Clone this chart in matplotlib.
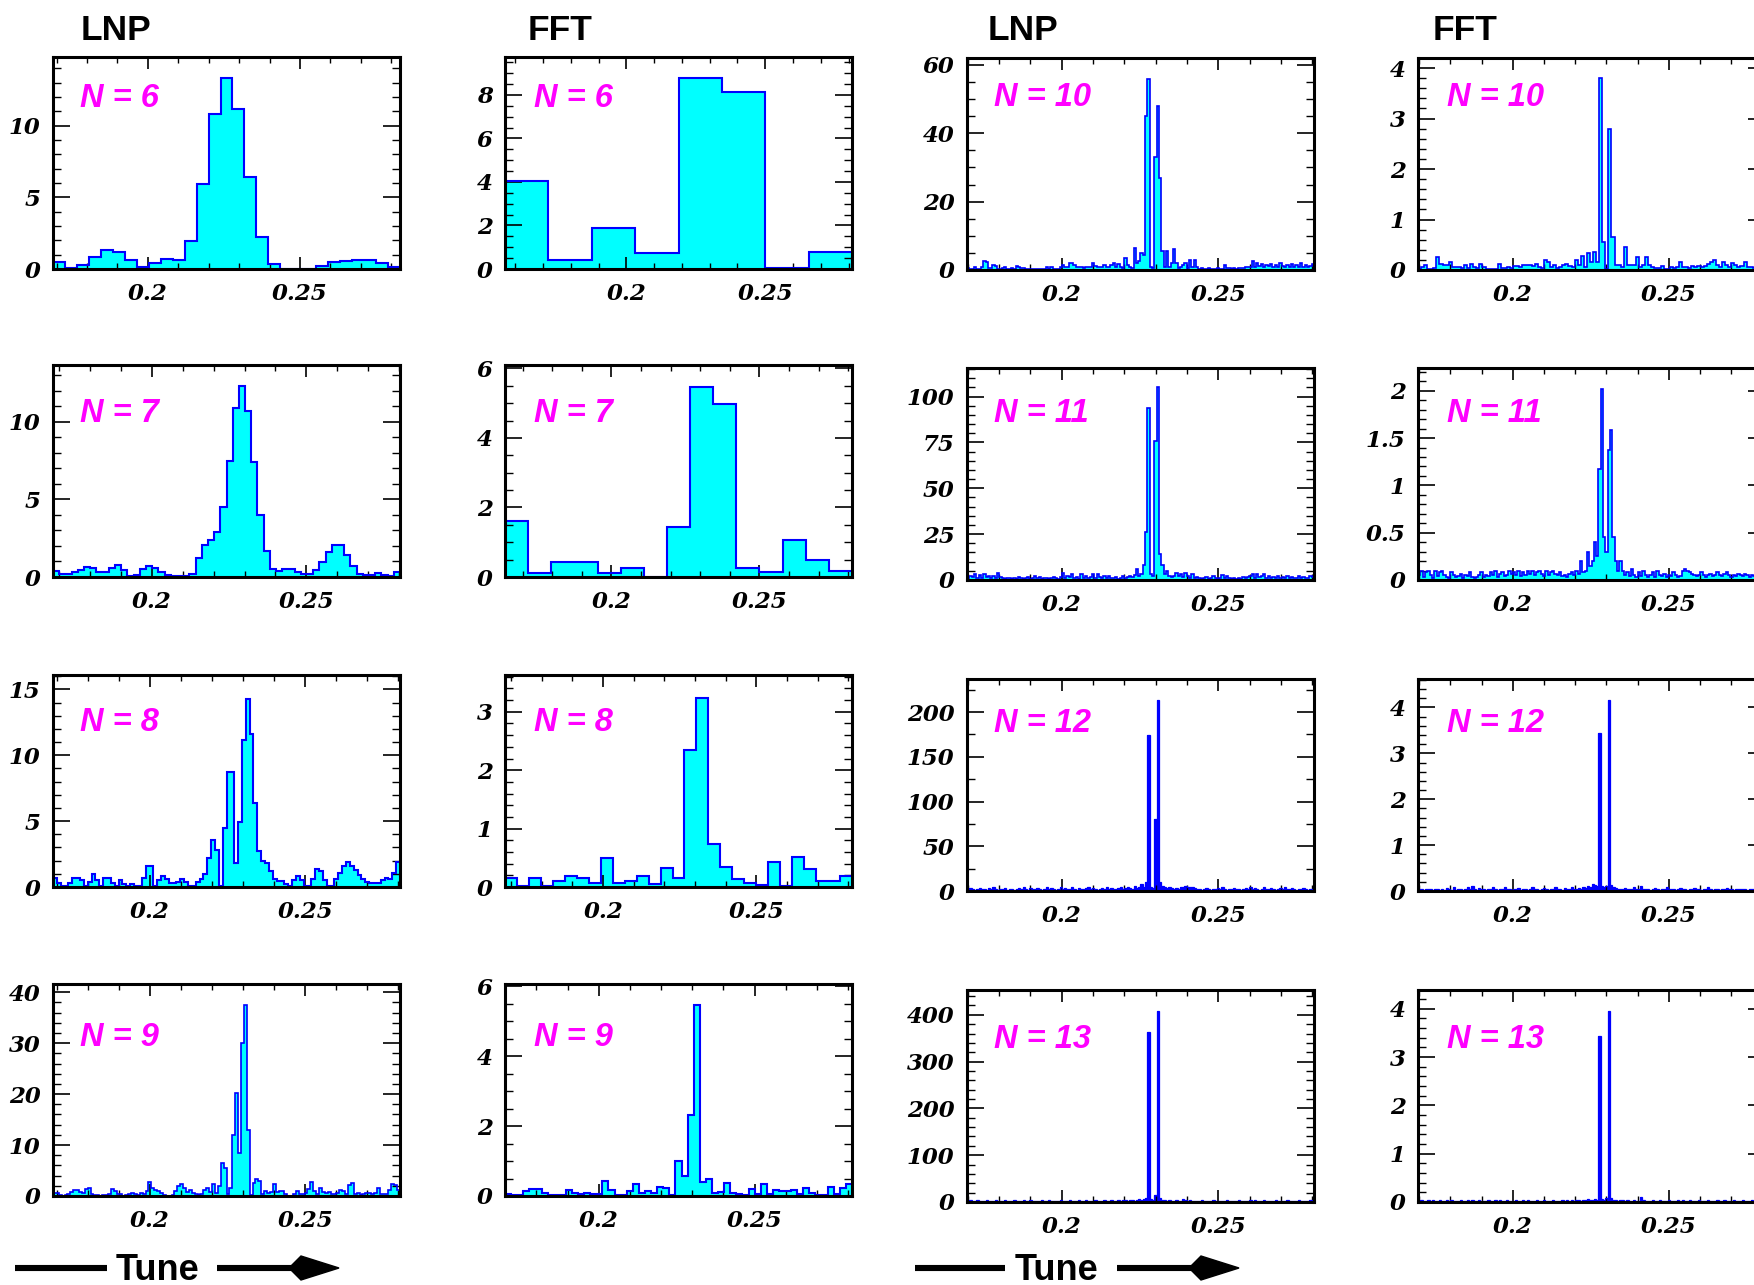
import matplotlib
matplotlib.use("Agg")
import matplotlib.pyplot as plt
from matplotlib.ticker import MultipleLocator, FixedLocator, FuncFormatter
from matplotlib.patches import Polygon
import numpy as np

plt.rcParams.update({'font.family': ['DejaVu Serif'], 'font.style': 'italic',
                     'font.weight': 'bold'})

W, H = 1754, 1285

# ---------------- data (bin contents) ----------------
lnp6 = [0.5, 0.07, 0.25, 0.85, 1.35, 1.2, 0.6, 0.15, 0.45, 0.7, 0.6, 1.95, 5.9, 10.8,
        13.3, 11.2, 6.4, 2.2, 0.35, 0.02, 0.02, 0.02, 0.23, 0.5, 0.55, 0.63, 0.63, 0.42, 0.12]
fft6 = [4.05, 0.42, 1.9, 0.74, 8.77, 8.12, 0.05, 0.78]

lnp7 = [0.4, 0.2, 0.2, 0.3, 0.45, 0.65, 0.55, 0.3, 0.3, 0.55,
        0.8, 0.45, 0.05, 0.15, 0.5, 0.7, 0.55, 0.35, 0.1, 0.05,
        0.05, 0.05, 0.2, 1.2, 2.05, 2.4, 2.9, 4.5, 7.5, 10.9,
        12.3, 10.7, 7.4, 4.0, 1.7, 0.5, 0.4, 0.5, 0.5, 0.35,
        0.2, 0.2, 0.45, 0.95, 1.6, 2.05, 2.05, 1.45, 0.7, 0.2,
        0.1, 0.15, 0.25, 0.15, 0.05, 0.3]
fft7 = [1.62, 0.11, 0.44, 0.44, 0.11, 0.27, 0.01, 1.45, 5.47, 4.99, 0.25, 0.15, 1.06, 0.48, 0.17]

lnp8 = [0.7, 0.3, 0.05, 0.05, 0.3, 0.7, 0.7, 0.5, 0.1, 0.4,
        1.0, 0.5, 0.1, 0.7, 0.7, 0.3, 0.1, 0.5, 0.2, 0.05,
        0.2, 0.05, 0.05, 0.7, 1.6, 1.6, 0.05, 0.5, 0.8, 0.6,
        0.3, 0.3, 0.4, 0.6, 0.4, 0.1, 0.1, 0.4, 0.6, 1.0,
        2.2, 3.6, 2.8, 0.05, 4.5, 8.7, 8.7, 1.8, 4.9, 11.2,
        14.3, 11.6, 6.4, 2.7, 2.0, 1.8, 1.2, 0.6, 0.45, 0.45,
        0.2, 0.05, 0.5, 0.8, 0.5, 0.1, 0.1, 0.6, 1.4, 1.2,
        0.5, 0.1, 0.1, 0.6, 1.1, 1.6, 1.9, 1.6, 1.3, 0.9,
        0.6, 0.35, 0.3, 0.3, 0.3, 0.5, 0.7, 0.6, 1.1, 1.9]
fft8 = [0.16, 0.02, 0.16, 0.02, 0.1, 0.19, 0.16, 0.06, 0.49, 0.06, 0.11, 0.18, 0.05, 0.33,
        0.16, 2.35, 3.24, 0.73, 0.34, 0.13, 0.07, 0.03, 0.42, 0.02, 0.52, 0.3, 0.1, 0.1, 0.19]

lnp9 = [0.6, 0.5, 0.1, 0.05, 0.1, 0.3, 0.8, 1.1, 1.2, 0.8,
        0.6, 1.4, 1.6, 0.3, 0.1, 0.1, 0.05, 0.2, 0.1, 0.3,
        1.3, 0.9, 0.3, 0.3, 0.05, 0.1, 0.3, 0.6, 0.4, 0.2,
        0.5, 0.4, 1.0, 2.7, 1.6, 1.2, 1.0, 0.5, 0.1, 0.05,
        0.05, 0.2, 1.0, 2.0, 2.4, 1.5, 0.8, 1.2, 0.6, 0.3,
        0.2, 0.3, 1.2, 1.5, 0.8, 2.4, 0.5, 2.0, 6.4, 5.5,
        0.3, 1.5, 12.0, 20.2, 8.4, 30.0, 37.5, 13.0, 0.2, 2.5,
        3.4, 3.0, 0.3, 1.0, 0.5, 0.8, 2.4, 0.8, 1.0, 1.0,
        0.3, 0.05, 0.05, 0.3, 1.0, 0.4, 0.3, 0.5, 1.3, 2.7,
        1.0, 0.3, 1.5, 0.8, 0.5, 0.7, 0.3, 0.4, 0.6, 1.2,
        1.0, 0.4, 2.2, 2.5, 0.3, 0.5, 0.2, 0.3, 0.5, 0.6,
        0.3, 0.5, 1.6, 0.4, 0.3, 0.4, 1.2, 2.4, 2.2, 1.2]
fft9 = [0.07, 0.03, 0.03, 0.15, 0.2, 0.2, 0.1, 0.03, 0.03, 0.03,
        0.16, 0.08, 0.05, 0.1, 0.05, 0.05, 0.42, 0.17, 0.03, 0.03,
        0.13, 0.33, 0.1, 0.13, 0.08, 0.26, 0.24, 0.03, 1.0, 0.57,
        2.33, 5.47, 0.4, 0.48, 0.1, 0.12, 0.37, 0.1, 0.05, 0.03,
        0.2, 0.05, 0.33, 0.05, 0.17, 0.15, 0.14, 0.16, 0.05, 0.24,
        0.08, 0.03, 0.03, 0.26, 0.05, 0.22, 0.35]

lnp10 = [0.5, 0.3, 0.2, 0.8, 0.3, 0.2, 0.8, 2.5, 2.2, 0.5,
         0.6, 1.5, 1.2, 0.3, 0.3, 0.5, 1.0, 0.3, 0.2, 0.6,
         0.3, 1.2, 1.0, 0.5, 0.6, 0.4, 0.2, 0.2, 0.2, 0.2,
         0.2, 0.2, 0.3, 0.2, 1.0, 0.3, 0.8, 0.2, 0.3, 0.2,
         1.0, 1.5, 0.8, 1.0, 2.0, 2.0, 1.5, 1.0, 0.8, 1.0,
         0.7, 1.0, 0.8, 1.0, 2.0, 1.2, 0.8, 1.0, 0.8, 1.5,
         1.0, 0.8, 1.5, 2.0, 1.0, 1.8, 0.8, 0.5, 3.5, 1.5,
         1.0, 0.5, 6.5, 2.0, 2.5, 5.0, 4.5, 45.0, 56.0, 1.0,
         0.5, 33.0, 48.0, 27.0, 5.5, 1.0, 5.5, 1.0, 2.0, 6.0,
         2.0, 0.5, 1.0, 1.5, 2.0, 0.5, 3.0, 1.0, 3.0, 1.0,
         0.3, 0.5, 0.3, 0.2, 0.5, 0.3, 0.2, 0.3, 0.5, 0.2,
         0.3, 1.5, 0.5, 0.5, 0.3, 0.5, 0.4, 0.5, 0.6, 0.5,
         0.8, 1.0, 0.8, 2.5, 1.0, 2.0, 1.2, 1.8, 1.0, 1.5,
         1.2, 1.8, 1.0, 1.5, 0.8, 2.0, 1.2, 1.0, 1.5, 1.0,
         1.8, 0.8, 1.5, 1.0, 2.0, 1.0, 1.5, 0.8, 1.2, 1.8]
fft10 = [0.02, 0.05, 0.1, 0.02, 0.02, 0.03, 0.25, 0.12, 0.1, 0.1,
         0.15, 0.05, 0.05, 0.05, 0.03, 0.1, 0.03, 0.12, 0.06, 0.03,
         0.12, 0.06, 0.02, 0.02, 0.02, 0.02, 0.12, 0.03, 0.03, 0.05,
         0.04, 0.07, 0.08, 0.06, 0.09, 0.1, 0.1, 0.08, 0.12, 0.05,
         0.04, 0.2, 0.15, 0.06, 0.1, 0.03, 0.05, 0.1, 0.12, 0.08,
         0.05, 0.2, 0.1, 0.28, 0.05, 0.33, 0.15, 0.35, 0.15, 3.8,
         0.55, 0.02, 2.8, 0.65, 0.1, 0.1, 0.05, 0.45, 0.1, 0.1,
         0.1, 0.25, 0.05, 0.1, 0.25, 0.1, 0.05, 0.03, 0.03, 0.07,
         0.02, 0.02, 0.06, 0.03, 0.05, 0.15, 0.05, 0.05, 0.04, 0.07,
         0.05, 0.07, 0.06, 0.07, 0.12, 0.15, 0.2, 0.1, 0.05, 0.15,
         0.1, 0.05, 0.13, 0.1, 0.05, 0.07, 0.15, 0.05, 0.05, 0.03,
         0.05, 0.05, 0.04]

lnp11 = [1.0, 2.0, 1.5, 3.0, 1.0, 2.5, 1.0, 3.0, 1.5, 2.0,
         1.0, 2.0, 1.0, 4.0, 1.5, 1.0, 0.5, 1.0, 1.2, 0.8,
         1.0, 0.5, 1.5, 1.0, 0.8, 1.0, 1.5, 0.5, 1.0, 2.0,
         1.0, 1.5, 0.8, 1.0, 1.2, 0.5, 1.0, 1.5, 1.0, 0.8,
         1.5, 4.0, 1.0, 2.0, 1.5, 3.0, 1.0, 1.5, 0.8, 3.0,
         1.0, 2.0, 1.0, 1.5, 3.0, 1.0, 3.0, 1.5, 1.0, 2.0,
         1.0, 2.0, 1.0, 1.0, 1.5, 0.8, 1.0, 2.0, 1.0, 1.5,
         2.0, 1.5, 2.5, 6.0, 2.0, 3.0, 8.0, 26.0, 94.0, 3.0,
         2.0, 76.0, 105.0, 14.0, 8.0, 3.0, 5.0, 2.0, 1.5, 2.0,
         4.0, 2.0, 3.0, 1.5, 4.0, 2.0, 1.0, 3.0, 1.0, 1.5,
         1.0, 0.8, 1.0, 1.5, 0.8, 1.0, 2.0, 1.0, 0.8, 1.0,
         2.5, 1.0, 2.0, 1.0, 0.8, 1.0, 0.5, 1.0, 0.8, 1.5,
         1.0, 1.5, 2.0, 3.0, 1.0, 3.0, 1.5, 2.0, 3.0, 1.0,
         2.0, 1.0, 1.5, 1.0, 2.0, 1.0, 1.5, 1.0, 2.0, 1.0,
         1.5, 1.0, 1.0, 2.0, 1.0, 1.5, 1.0, 1.0, 2.0, 1.5]
fft11 = [0.05, 0.1, 0.03, 0.08, 0.1, 0.05, 0.02, 0.1, 0.04, 0.08,
         0.1, 0.05, 0.03, 0.02, 0.08, 0.05, 0.03, 0.04, 0.06, 0.02,
         0.05, 0.04, 0.08, 0.03, 0.02, 0.03, 0.05, 0.08, 0.03, 0.05,
         0.04, 0.08, 0.05, 0.1, 0.03, 0.06, 0.08, 0.04, 0.05, 0.09,
         0.06, 0.08, 0.05, 0.1, 0.04, 0.08, 0.05, 0.09, 0.06, 0.1,
         0.05, 0.08, 0.1, 0.06, 0.04, 0.09, 0.05, 0.08, 0.1, 0.06,
         0.05, 0.08, 0.04, 0.05, 0.03, 0.06, 0.08, 0.05, 0.1, 0.06,
         0.2, 0.08, 0.1, 0.3, 0.15, 0.2, 0.4, 0.25, 1.17, 2.02,
         0.45, 0.3, 1.37, 1.58, 0.45, 0.2, 0.1, 0.2, 0.1, 0.05,
         0.08, 0.04, 0.12, 0.05, 0.03, 0.08, 0.04, 0.1, 0.05, 0.03,
         0.05, 0.08, 0.03, 0.1, 0.05, 0.04, 0.06, 0.03, 0.05, 0.04,
         0.08, 0.05, 0.03, 0.04, 0.1, 0.12, 0.1, 0.08, 0.06, 0.05,
         0.04, 0.05, 0.08, 0.05, 0.03, 0.05, 0.06, 0.04, 0.05, 0.08,
         0.05, 0.04, 0.06, 0.08, 0.05, 0.03, 0.05, 0.04, 0.06, 0.05,
         0.04, 0.06, 0.05, 0.03, 0.05, 0.04, 0.05, 0.04, 0.05, 0.04]

lnp12 = [2, 3, 2, 1, 2, 3, 2, 2, 1, 3,
         2, 4, 2, 1, 2, 2, 3, 1, 2, 2,
         1, 2, 3, 2, 4, 2, 1, 3, 2, 2,
         3, 2, 1, 2, 5, 2, 3, 2, 1, 2,
         4, 2, 3, 2, 2, 5, 2, 1, 3, 2,
         2, 3, 5, 2, 3, 2, 1, 2, 3, 2,
         5, 2, 3, 2, 2, 3, 4, 2, 3, 4,
         3, 2, 6, 3, 5, 8, 4, 10, 174, 4,
         3, 81, 213, 10, 6, 4, 3, 5, 3, 2,
         3, 2, 4, 5, 6, 5, 4, 4, 3, 2,
         2, 1, 2, 3, 2, 1, 2, 2, 3, 2,
         4, 2, 1, 2, 2, 3, 2, 2, 1, 2,
         3, 2, 4, 2, 3, 2, 1, 2, 4, 2,
         2, 3, 2, 1, 2, 3, 2, 4, 2, 2,
         3, 2, 1, 2, 2, 3, 2, 1, 2, 2]
fft12 = [0.04, 0.05, 0.03, 0.05, 0.04, 0.05, 0.03, 0.04, 0.05, 0.03,
         0.04, 0.03, 0.06, 0.04, 0.03, 0.08, 0.03, 0.05, 0.04, 0.03,
         0.05, 0.08, 0.04, 0.1, 0.05, 0.03, 0.06, 0.04, 0.05, 0.03,
         0.04, 0.05, 0.08, 0.04, 0.03, 0.05, 0.04, 0.08, 0.05, 0.04,
         0.03, 0.05, 0.04, 0.06, 0.03, 0.05, 0.04, 0.03, 0.05, 0.08,
         0.04, 0.05, 0.03, 0.04, 0.06, 0.05, 0.03, 0.04, 0.05, 0.08,
         0.04, 0.05, 0.03, 0.06, 0.04, 0.05, 0.08, 0.05, 0.04, 0.06,
         0.05, 0.08, 0.06, 0.1, 0.08, 0.15, 0.12, 0.1, 3.44, 0.1,
         0.08, 0.1, 4.17, 0.12, 0.08, 0.06, 0.05, 0.04, 0.05, 0.06,
         0.05, 0.05, 0.04, 0.08, 0.05, 0.04, 0.1, 0.05, 0.04, 0.05,
         0.03, 0.04, 0.06, 0.04, 0.03, 0.05, 0.04, 0.08, 0.05, 0.04,
         0.05, 0.03, 0.04, 0.06, 0.05, 0.04, 0.03, 0.05, 0.04, 0.06,
         0.04, 0.05, 0.03, 0.05, 0.04, 0.08, 0.04, 0.03, 0.05, 0.04,
         0.03, 0.05, 0.04, 0.06, 0.04, 0.05, 0.03, 0.04, 0.05, 0.04,
         0.05, 0.04, 0.03, 0.05, 0.04, 0.05, 0.03, 0.04, 0.05, 0.04]

lnp13 = [3, 4, 3, 2, 4, 3, 3, 2, 4, 3,
         2, 3, 4, 3, 2, 3, 4, 3, 3, 2,
         4, 3, 2, 3, 4, 3, 2, 4, 3, 3,
         2, 3, 4, 3, 2, 4, 3, 3, 2, 3,
         4, 3, 2, 3, 5, 3, 2, 3, 4, 3,
         3, 4, 2, 3, 3, 4, 3, 2, 3, 4,
         3, 2, 4, 3, 3, 4, 3, 5, 4, 3,
         4, 5, 3, 5, 6, 4, 6, 8, 363, 6,
         5, 15, 409, 8, 5, 4, 3, 4, 3, 3,
         4, 3, 3, 6, 5, 3, 4, 3, 3, 2,
         3, 4, 3, 2, 3, 3, 4, 3, 2, 3,
         3, 2, 4, 3, 3, 2, 3, 4, 3, 3,
         2, 3, 4, 3, 5, 3, 2, 3, 4, 3,
         3, 2, 3, 4, 3, 3, 2, 3, 4, 3,
         2, 3, 3, 4, 3, 2, 3, 3, 4, 3]
fft13 = [0.03, 0.04, 0.03, 0.02, 0.04, 0.03, 0.05, 0.03, 0.02, 0.04,
         0.03, 0.02, 0.04, 0.03, 0.05, 0.03, 0.02, 0.03, 0.04, 0.03,
         0.02, 0.04, 0.03, 0.05, 0.03, 0.02, 0.04, 0.03, 0.02, 0.03,
         0.04, 0.03, 0.02, 0.05, 0.03, 0.04, 0.02, 0.03, 0.04, 0.03,
         0.02, 0.03, 0.04, 0.03, 0.02, 0.04, 0.03, 0.05, 0.03, 0.02,
         0.03, 0.04, 0.03, 0.02, 0.04, 0.03, 0.02, 0.03, 0.04, 0.03,
         0.02, 0.03, 0.04, 0.03, 0.05, 0.03, 0.04, 0.03, 0.05, 0.04,
         0.03, 0.05, 0.04, 0.06, 0.05, 0.04, 0.06, 0.05, 3.43, 0.06,
         0.05, 0.08, 3.96, 0.08, 0.05, 0.04, 0.03, 0.04, 0.04, 0.03,
         0.04, 0.03, 0.02, 0.04, 0.03, 0.02, 0.1, 0.04, 0.03, 0.02,
         0.03, 0.04, 0.02, 0.03, 0.04, 0.03, 0.02, 0.03, 0.04, 0.03,
         0.02, 0.03, 0.04, 0.03, 0.05, 0.03, 0.02, 0.04, 0.03, 0.02,
         0.03, 0.04, 0.03, 0.02, 0.03, 0.04, 0.03, 0.02, 0.03, 0.04,
         0.03, 0.02, 0.04, 0.03, 0.02, 0.03, 0.04, 0.03, 0.02, 0.03,
         0.04, 0.03, 0.02, 0.03, 0.04, 0.03, 0.02, 0.03, 0.04, 0.03]

column_titles = ["LNP", "FFT", "LNP", "FFT"]
x_major_ticks = [0.2, 0.25]

# (column, row, N, values, x-range, y-range, y major step, y minor step)
panels = [
    (0, 0, 6, lnp6, (0.1688, 0.2829), (0, 14.8), 5, 1),
    (1, 0, 6, fft6, (0.15625, 0.28125), (0, 9.74), 2, 0.5),
    (2, 0, 10, lnp10, (0.1698, 0.2805), (0, 62), 20, 5),
    (3, 0, 10, fft10, (0.1696, 0.2808), (0, 4.2), 1, 0.2),
    (0, 1, 7, lnp7, (0.168, 0.2803), (0, 13.67), 5, 1),
    (1, 1, 7, fft7, (0.1640625, 0.28125), (0, 6.1), 2, 0.5),
    (2, 1, 11, lnp11, (0.1698, 0.2805), (0, 115.6), 25, 5),
    (3, 1, 11, fft11, (0.1696, 0.2808), (0, 2.24), 0.5, 0.1),
    (0, 2, 8, lnp8, (0.1687, 0.2806), (0, 16.1), 5, 1),
    (1, 2, 8, fft8, (0.16797, 0.28125), (0, 3.63), 1, 0.2),
    (2, 2, 12, lnp12, (0.1698, 0.2805), (0, 237), 50, 25),
    (3, 2, 12, fft12, (0.1696, 0.2808), (0, 4.62), 1, 0.2),
    (0, 3, 9, lnp9, (0.1687, 0.2806), (0, 41.6), 10, 2),
    (1, 3, 9, fft9, (0.16992, 0.28125), (0, 6.07), 2, 0.5),
    (2, 3, 13, lnp13, (0.1698, 0.2805), (0, 453), 100, 20),
    (3, 3, 13, fft13, (0.1696, 0.2808), (0, 4.39), 1, 0.2),
]

# ---------------- layout (pixels) ----------------
col_left = [53, 505, 967, 1418]
ax_w = 347
row_top = [[57, 365, 675, 984], [58, 368, 679, 990]]
ax_h = 212
label_dx = [27, 29, 27, 29]
label_dy = [[50, 57, 56, 62], [48, 54, 53, 58]]

fig = plt.figure(figsize=(W / 100, H / 100), dpi=100)

CYAN = "#00FFFF"
BLUE = "#0000FF"
MAGENTA = "#FF00FF"

for col, row, n, vals, xr, yr, ymaj, ymin in panels:
    pair = 0 if col < 2 else 1
    left = col_left[col]
    top = row_top[pair][row]
    ax = fig.add_axes([left / W, 1 - (top + ax_h) / H, ax_w / W, ax_h / H])
    vals = np.asarray(vals, dtype=float)
    edges = np.linspace(xr[0], xr[1], len(vals) + 1)
    fine = len(vals) > 100
    very_fine = n >= 12
    ax.stairs(vals, edges, fill=True, color=BLUE if very_fine else CYAN, lw=0, zorder=1)
    ax.stairs(vals, edges, color=BLUE, lw=(0.9 if very_fine else 1.2) if fine else 1.5,
              zorder=2)
    ax.set_xlim(*xr)
    ax.set_ylim(*yr)
    ax.xaxis.set_major_locator(FixedLocator(x_major_ticks))
    ax.xaxis.set_minor_locator(MultipleLocator(0.01))
    ax.yaxis.set_major_locator(MultipleLocator(ymaj))
    ax.yaxis.set_minor_locator(MultipleLocator(ymin))
    fmt = FuncFormatter(lambda v, p: f"{v:g}")
    ax.xaxis.set_major_formatter(fmt)
    ax.yaxis.set_major_formatter(fmt)
    ax.tick_params(which="both", direction="in", top=True, right=True,
                   color="black", labelsize=16.5)
    ax.tick_params(axis="x", which="major", length=8.6, width=1.2, pad=10)
    ax.tick_params(axis="x", which="minor", length=4.3, width=1.0)
    ax.tick_params(axis="y", which="major", length=12.2, width=1.2, pad=9)
    ax.tick_params(axis="y", which="minor", length=5.8, width=1.0)
    for sp in ax.spines.values():
        sp.set_linewidth(2.2)
        sp.set_zorder(5)
    fig.text((left + label_dx[col]) / W, 1 - (top + label_dy[pair][row]) / H,
             f"N = {n}", color=MAGENTA, fontsize=23.5, fontfamily="Liberation Sans",
             fontweight="bold", fontstyle="italic", ha="left", va="baseline")

# column headers
header_x = [81, 528, 988, 1433]
for x, t in zip(header_x, column_titles):
    fig.text(x / W, 1 - 40 / H, t, fontsize=25.5, fontfamily="Liberation Sans",
             fontweight="bold", fontstyle="normal", ha="left", va="baseline")

# "Tune" arrows
ov = fig.add_axes([0, 0, 1, 1], zorder=10)
ov.set_xlim(0, W)
ov.set_ylim(H, 0)
ov.axis("off")
yc = 1268
for x0, x1, xt, x2, x3, xh in [(15, 107, 116, 217, 293, 289), (915, 1005, 1015, 1117, 1192, 1189)]:
    ov.plot([x0, x1], [yc, yc], color="black", lw=4.4, solid_capstyle="butt")
    ov.plot([x2, x3], [yc, yc], color="black", lw=4.4, solid_capstyle="butt")
    ov.add_patch(Polygon([(xh, yc), (xh + 12, yc - 12), (xh + 50, yc), (xh + 12, yc + 12)],
                         closed=True, color="black"))
    ov.text(xt, yc + 12.5, "Tune", fontsize=26, fontfamily="Liberation Sans",
            fontweight="bold", fontstyle="normal", ha="left", va="baseline")

fig.savefig("out.png", dpi=100)
